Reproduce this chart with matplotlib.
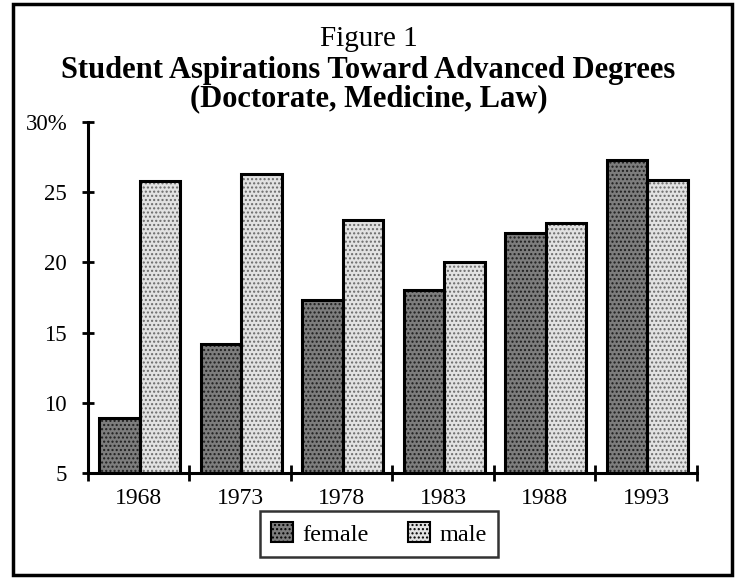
import matplotlib.pyplot as plt
import numpy as np
from matplotlib.patches import Rectangle, Patch

# data
years = ['1968', '1973', '1978', '1983', '1988', '1993']
female = [8.9, 14.2, 17.3, 18.0, 22.1, 27.3]
male = [25.8, 26.3, 23.0, 20.0, 22.8, 25.9]
y_ticks = [5, 10, 15, 20, 25, 30]
y_labels = ['5', '10', '15', '20', '25', '30%']

plt.rcParams['font.family'] = ['Liberation Serif', 'DejaVu Serif']
plt.rcParams['hatch.linewidth'] = 1.0

fig = plt.figure(figsize=(7.37, 5.79), dpi=100)
ax = fig.add_axes([0.1194, 0.1831, 0.8263, 0.6062])

x = np.arange(len(years))
w = 0.40
off = 0.01

# fill + halftone-ish dots, then the black outline on top
ax.bar(x - w / 2 + off, np.array(female) - 5, w, bottom=5, color='#7d7d7d',
       hatch='....', edgecolor='#1e1e1e', linewidth=0, zorder=2)
ax.bar(x + w / 2 + off, np.array(male) - 5, w, bottom=5, color='#e2e2e2',
       hatch='....', edgecolor='#6a6a6a', linewidth=0, zorder=2)
ax.bar(x - w / 2 + off, np.array(female) - 5, w, bottom=5, fill=False,
       edgecolor='black', linewidth=2.2, zorder=3)
ax.bar(x + w / 2 + off, np.array(male) - 5, w, bottom=5, fill=False,
       edgecolor='black', linewidth=2.2, zorder=3)

ax.set_xlim(-0.5, 5.5)
ax.set_ylim(5, 30)
ax.spines['top'].set_visible(False)
ax.spines['right'].set_visible(False)
ax.spines['left'].set_linewidth(2.2)
ax.spines['bottom'].set_linewidth(2.2)
ax.spines['left'].set_zorder(4)
ax.spines['bottom'].set_zorder(4)

ax.set_yticks(y_ticks)
ax.set_yticklabels(y_labels, fontsize=16.5)
ax.tick_params(axis='y', direction='inout', length=8, width=2, pad=11)

ax.set_xticks(np.arange(-0.5, 6, 1))
ax.set_xticklabels([])
ax.tick_params(axis='x', which='major', direction='inout', length=11, width=2)
ax.set_xticks(x, minor=True)
ax.set_xticklabels(years, minor=True, fontsize=17)
ax.tick_params(axis='x', which='minor', length=0, pad=11)

fig.text(0.5, 0.933, 'Figure 1', ha='center', va='center', fontsize=21)
fig.text(0.5, 0.879, 'Student Aspirations Toward Advanced Degrees',
         ha='center', va='center', fontsize=22, fontweight='bold')
fig.text(0.5, 0.829, '(Doctorate, Medicine, Law)',
         ha='center', va='center', fontsize=22, fontweight='bold')

handles = [Patch(facecolor='#7d7d7d', hatch='....', edgecolor='black', linewidth=1.5),
           Patch(facecolor='#e2e2e2', hatch='....', edgecolor='black', linewidth=1.5)]
leg = fig.legend(handles, ['female', 'male'], loc='center',
                 bbox_to_anchor=(0.514, 0.078), ncol=2, fontsize=17.5,
                 frameon=True, fancybox=False, handlelength=0.9,
                 handleheight=0.9, handletextpad=0.4, columnspacing=1.6,
                 borderpad=0.45)
leg.get_frame().set_edgecolor('black')
leg.get_frame().set_linewidth(1.8)

# outer frame around the whole figure
fig.patches.append(Rectangle((13 / 737, 4 / 579), 719 / 737, 571 / 579,
                             transform=fig.transFigure, fill=False,
                             edgecolor='black', linewidth=2.5))

fig.savefig('out.png', dpi=100)
